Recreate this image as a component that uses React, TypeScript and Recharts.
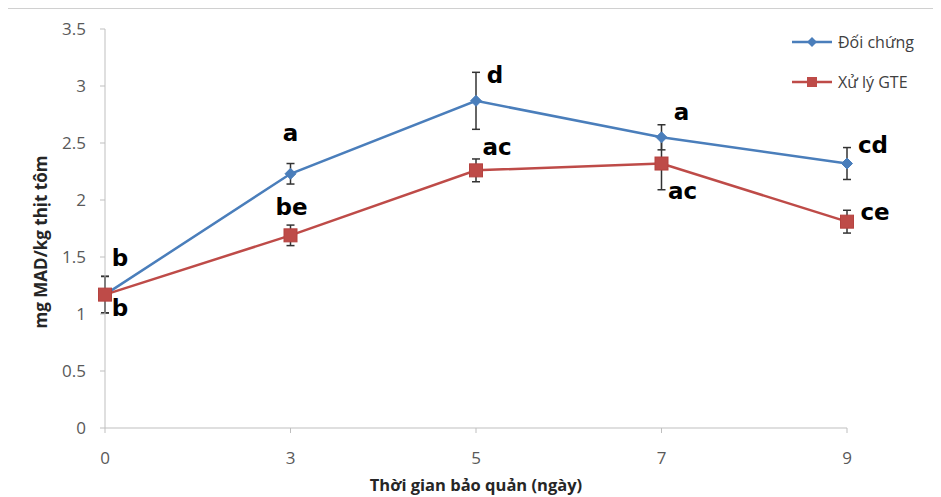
import React from "react";
import { LineChart, Line, XAxis, YAxis, ErrorBar, LabelList, Label } from "recharts";

const categories = ["0", "3", "5", "7", "9"];
const controlValues = [1.17, 2.23, 2.87, 2.55, 2.32];
const controlErrors = [0.16, 0.09, 0.25, 0.11, 0.14];
const controlLetters = ["b", "a", "d", "a", "cd"];
const gteValues = [1.17, 1.69, 2.26, 2.32, 1.81];
const gteErrors = [0.16, 0.09, 0.1, 0.23, 0.1];
const gteLetters = ["b", "be", "ac", "ac", "ce"];
const yTicks = [0, 0.5, 1, 1.5, 2, 2.5, 3, 3.5];
const seriesNames = ["Đối chứng", "Xử lý GTE"];

// label placement relative to each point (layout only)
const controlLabelOffsets = [
  [15, -36], [0, -40], [19, -25], [20, -24], [26, -18],
];
const gteLabelOffsets = [
  [15, 14], [1, -27], [21, -22], [21, 28], [28, -9],
];

const BLUE = "#4a7ebb";
const RED = "#be4b48";
const FONT = "'Open Sans', sans-serif";

const data = categories.map((c, i) => ({
  day: c,
  control: controlValues[i],
  controlErr: controlErrors[i],
  controlLbl: controlLetters[i],
  gte: gteValues[i],
  gteErr: gteErrors[i],
  gteLbl: gteLetters[i],
}));

const Diamond = (props: any) => {
  const { cx, cy, index } = props;
  if (cx == null || cy == null) return <g key={index} />;
  const r = 5.5;
  return (
    <path
      key={index}
      d={`M${cx},${cy - r}L${cx + r},${cy}L${cx},${cy + r}L${cx - r},${cy}Z`}
      fill={BLUE}
      stroke={BLUE}
    />
  );
};

const Square = (props: any) => {
  const { cx, cy, index } = props;
  if (cx == null || cy == null) return <g key={index} />;
  const s = 13;
  return <rect key={index} x={cx - s / 2} y={cy - s / 2} width={s} height={s} fill={RED} stroke="#b5423f" strokeWidth={1} />;
};

const makeLabel = (offsets: number[][]) => (props: any) => {
  const { x, y, value, index } = props;
  if (x == null || y == null) return null;
  const [dx, dy] = offsets[index] || [0, 0];
  return (
    <text
      x={x + dx}
      y={y + dy + 7}
      textAnchor="middle"
      fill="#000"
      fontFamily="'DejaVu Sans', sans-serif"
      fontWeight="bold"
      fontSize={23}
    >
      {value}
    </text>
  );
};

const YTitle = () => (
  <text
    x={40}
    y={242}
    transform="rotate(-90, 40, 242)"
    textAnchor="middle"
    dominantBaseline="central"
    fontFamily={FONT}
    fontWeight="bold"
    fontSize={17}
    fill="#262626"
  >
    mg MAD/kg thịt tôm
  </text>
);

export default function App() {
  return (
    <div style={{ position: "relative", width: 941, height: 497, marginLeft: -8, marginTop: -8, overflow: "hidden" }}>
      <div
        style={{
          position: "absolute",
          left: 7,
          top: 8,
          width: 950,
          height: 500,
          borderLeft: "1px solid #d0d0d0",
          borderTop: "1px solid #d0d0d0",
        }}
      />
      <LineChart width={941} height={497} data={data} margin={{ top: 29, right: 94, bottom: 0, left: 0 }}>
        <XAxis
          dataKey="day"
          height={69}
          axisLine={{ stroke: "#bfbfbf" }}
          tickLine={{ stroke: "#bfbfbf" }}
          tickSize={5}
          tickMargin={19}
          tick={{ fill: "#595959", fontSize: 17, fontFamily: FONT }}
          interval={0}
        >
          <Label
            value="Thời gian bảo quản (ngày)"
            position="insideBottom"
            offset={6}
            style={{ fontFamily: FONT, fontWeight: "bold", fontSize: 16.5, fill: "#262626" }}
          />
        </XAxis>
        <YAxis
          width={105}
          domain={[0, 3.5]}
          ticks={yTicks}
          interval={0}
          axisLine={{ stroke: "#bfbfbf" }}
          tickLine={{ stroke: "#bfbfbf" }}
          tickSize={5}
          tickMargin={14}
          tick={{ fill: "#595959", fontSize: 17, fontFamily: FONT }}
        >
          <Label content={<YTitle />} />
        </YAxis>
        <Line
          dataKey="control"
          name={seriesNames[0]}
          stroke={BLUE}
          strokeWidth={2.5}
          dot={Diamond}
          activeDot={false}
          isAnimationActive={false}
        >
          <ErrorBar dataKey="controlErr" width={4} stroke="#333" strokeWidth={1.5} direction="y" isAnimationActive={false} />
          <LabelList dataKey="controlLbl" content={makeLabel(controlLabelOffsets)} />
        </Line>
        <Line
          dataKey="gte"
          name={seriesNames[1]}
          stroke={RED}
          strokeWidth={2.5}
          dot={Square}
          activeDot={false}
          isAnimationActive={false}
        >
          <ErrorBar dataKey="gteErr" width={4} stroke="#333" strokeWidth={1.5} direction="y" isAnimationActive={false} />
          <LabelList dataKey="gteLbl" content={makeLabel(gteLabelOffsets)} />
        </Line>
      </LineChart>
      <div style={{ position: "absolute", left: 790, top: 30, fontFamily: FONT, fontSize: 16, color: "#404040" }}>
        <div style={{ display: "flex", alignItems: "center", height: 24 }}>
          <svg width={44} height={14} style={{ marginRight: 4 }}>
            <line x1={2} y1={7} x2={42} y2={7} stroke={BLUE} strokeWidth={2.5} />
            <path d="M22,2L27,7L22,12L17,7Z" fill={BLUE} />
          </svg>
          <span>{seriesNames[0]}</span>
        </div>
        <div style={{ display: "flex", alignItems: "center", height: 24, marginTop: 16 }}>
          <svg width={44} height={14} style={{ marginRight: 4 }}>
            <line x1={2} y1={7} x2={42} y2={7} stroke={RED} strokeWidth={2.5} />
            <rect x={17} y={2} width={10} height={10} fill={RED} />
          </svg>
          <span>{seriesNames[1]}</span>
        </div>
      </div>
    </div>
  );
}
